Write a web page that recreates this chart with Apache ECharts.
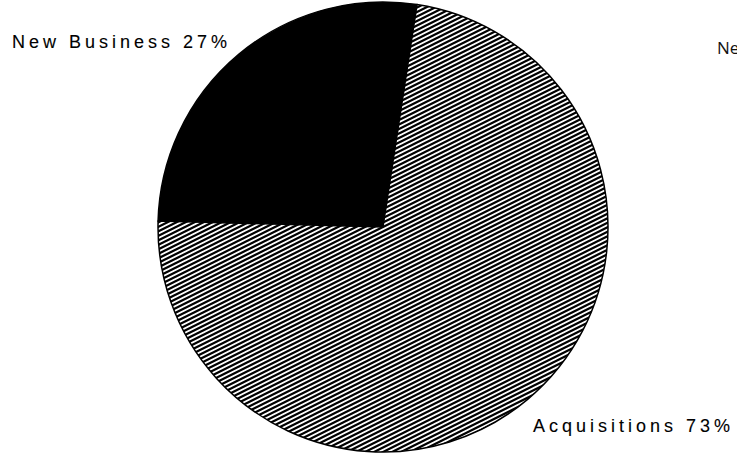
<!DOCTYPE html>
<html>
<head>
<meta charset="utf-8">
<script src="https://cdn.jsdelivr.net/npm/echarts@6/dist/echarts.min.js"></script>
<style>
  html, body { margin: 0; padding: 0; background: #fff; }
  #chart { width: 737px; height: 453px; }
  #chart svg text[style*="Liberation"] { letter-spacing: 4px; }
</style>
</head>
<body>
<div id="chart"></div>
<script>
var categories = ['New Business', 'Acquisitions'];
var values = [27, 73];
var sideTitle = 'New Business';

// hatch pattern tile (diagonal lines rising to the right)
function makeHatch() {
  var c = document.createElement('canvas');
  c.width = 9; c.height = 9;
  var ctx = c.getContext('2d');
  ctx.fillStyle = '#fff';
  ctx.fillRect(0, 0, 9, 9);
  ctx.strokeStyle = '#000';
  ctx.lineWidth = 2.2;
  for (var n = -4; n <= 8; n++) {
    var y0 = n * 4.5;
    ctx.beginPath();
    ctx.moveTo(-3, y0 + 1.5);
    ctx.lineTo(12, y0 - 6);
    ctx.stroke();
  }
  return c;
}
var hatch = makeHatch();

var chart = echarts.init(document.getElementById('chart'), null, { renderer: 'svg' });
var labelPos = [
  { x: 12, y: 42 },
  { x: 533, y: 426 }
];
chart.setOption({
  backgroundColor: '#fff',
  animation: false,
  title: {
    text: sideTitle,
    left: 712,
    top: 34,
    textStyle: { fontSize: 17, fontWeight: 'normal', color: '#111', fontFamily: 'Open Sans' }
  },
  series: [{
    type: 'pie',
    center: [383, 227],
    radius: 225,
    startAngle: 178.5,
    clockwise: true,
    silent: true,
    data: categories.map(function (c, i) {
      return {
        name: c,
        value: values[i],
        itemStyle: i === 0
          ? { color: '#000' }
          : { color: { image: hatch, repeat: 'repeat' } }
      };
    }),
    itemStyle: { borderColor: '#000', borderWidth: 1.5 },
    label: {
      show: true,
      position: 'outside',
      formatter: '{b} {d}%',
      fontFamily: 'Liberation Sans',
      fontSize: 18,
      color: '#000',
      textBorderColor: '#000',
      textBorderWidth: 0.1
    },
    labelLine: { show: false },
    labelLayout: function (params) {
      var p = labelPos[params.dataIndex];
      return { x: p.x, y: p.y, align: 'left', verticalAlign: 'middle', hideOverlap: false };
    }
  }]
});
</script>
</body>
</html>
